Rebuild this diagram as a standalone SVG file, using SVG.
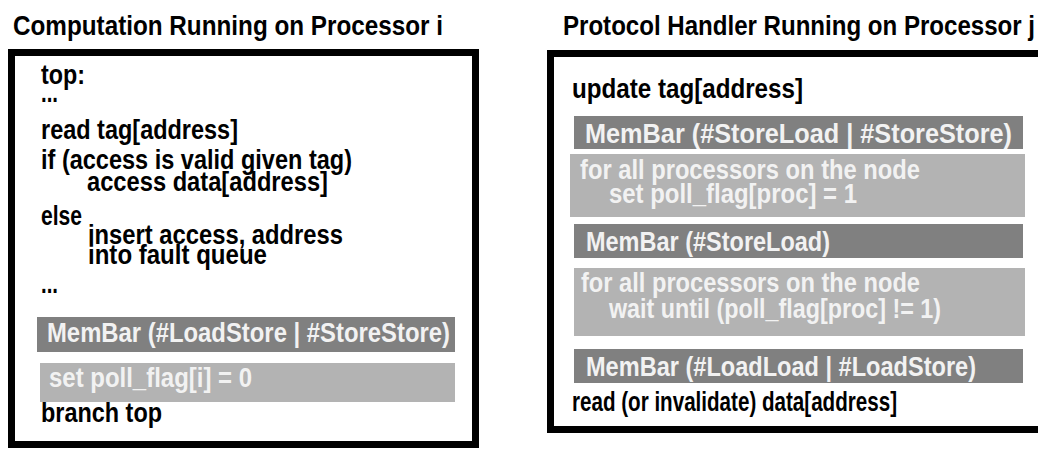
<svg xmlns="http://www.w3.org/2000/svg" width="1038" height="449" viewBox="0 0 1038 449">
<style>
text{font-family:"Liberation Sans",Arial,sans-serif;font-size:27.5px;font-weight:bold;fill:#000}
.t{font-size:27px}
.w{fill:#f2f2f2}
.dark{fill:#808080}
.light{fill:#b3b3b3}
.frame{fill:#fff;stroke:#000;stroke-width:7}
</style>
<rect width="1038" height="449" fill="#fff"/>
<g id="left-panel">
<text class="t" x="13" y="35" textLength="430" lengthAdjust="spacingAndGlyphs">Computation Running on Processor i</text>
<rect class="frame" x="11.5" y="52.5" width="464" height="392"/>
<text x="41" y="84" textLength="44" lengthAdjust="spacingAndGlyphs">top:</text>
<text x="41" y="102" textLength="17" lengthAdjust="spacingAndGlyphs">...</text>
<text x="41" y="139" textLength="197" lengthAdjust="spacingAndGlyphs">read tag[address]</text>
<text x="41" y="169" textLength="311" lengthAdjust="spacingAndGlyphs">if (access is valid given tag)</text>
<text x="87" y="191" textLength="241" lengthAdjust="spacingAndGlyphs">access data[address]</text>
<text x="41" y="225" textLength="41" lengthAdjust="spacingAndGlyphs">else</text>
<text x="88" y="244" textLength="255" lengthAdjust="spacingAndGlyphs">insert access, address</text>
<text x="88" y="264" textLength="179" lengthAdjust="spacingAndGlyphs">into fault queue</text>
<text x="41" y="293" textLength="17" lengthAdjust="spacingAndGlyphs">...</text>
<rect class="dark" x="37" y="317" width="418" height="35"/>
<text class="w" x="47" y="342" textLength="403" lengthAdjust="spacingAndGlyphs">MemBar (#LoadStore | #StoreStore)</text>
<rect class="light" x="40" y="363" width="415" height="39"/>
<text class="w" x="49" y="387" textLength="203" lengthAdjust="spacingAndGlyphs">set poll_flag[i] = 0</text>
<text x="41" y="422" textLength="121" lengthAdjust="spacingAndGlyphs">branch top</text>
</g>
<g id="right-panel">
<text class="t" x="563" y="35" textLength="472" lengthAdjust="spacingAndGlyphs">Protocol Handler Running on Processor j</text>
<rect class="frame" x="550.5" y="53.5" width="600" height="376"/>
<text x="572" y="98" textLength="231" lengthAdjust="spacingAndGlyphs">update tag[address]</text>
<rect class="dark" x="574" y="116" width="449" height="33"/>
<text class="w" x="585" y="143" textLength="427" lengthAdjust="spacingAndGlyphs">MemBar (#StoreLoad | #StoreStore)</text>
<rect class="light" x="570" y="154" width="455" height="63"/>
<text class="w" x="580" y="179" textLength="340" lengthAdjust="spacingAndGlyphs">for all processors on the node</text>
<text class="w" x="609" y="203" textLength="248" lengthAdjust="spacingAndGlyphs">set poll_flag[proc] = 1</text>
<rect class="dark" x="574" y="224" width="449" height="34"/>
<text class="w" x="586" y="251" textLength="244" lengthAdjust="spacingAndGlyphs">MemBar (#StoreLoad)</text>
<rect class="light" x="574" y="268" width="451" height="68"/>
<text class="w" x="581" y="292" textLength="339" lengthAdjust="spacingAndGlyphs">for all processors on the node</text>
<text class="w" x="609" y="318" textLength="332" lengthAdjust="spacingAndGlyphs">wait until (poll_flag[proc] != 1)</text>
<rect class="dark" x="574" y="349" width="449" height="34"/>
<text class="w" x="586" y="376" textLength="390" lengthAdjust="spacingAndGlyphs">MemBar (#LoadLoad | #LoadStore)</text>
<text x="572" y="411" textLength="325" lengthAdjust="spacingAndGlyphs">read (or invalidate) data[address]</text>
</g>
<g id="connectors"/>
</svg>
